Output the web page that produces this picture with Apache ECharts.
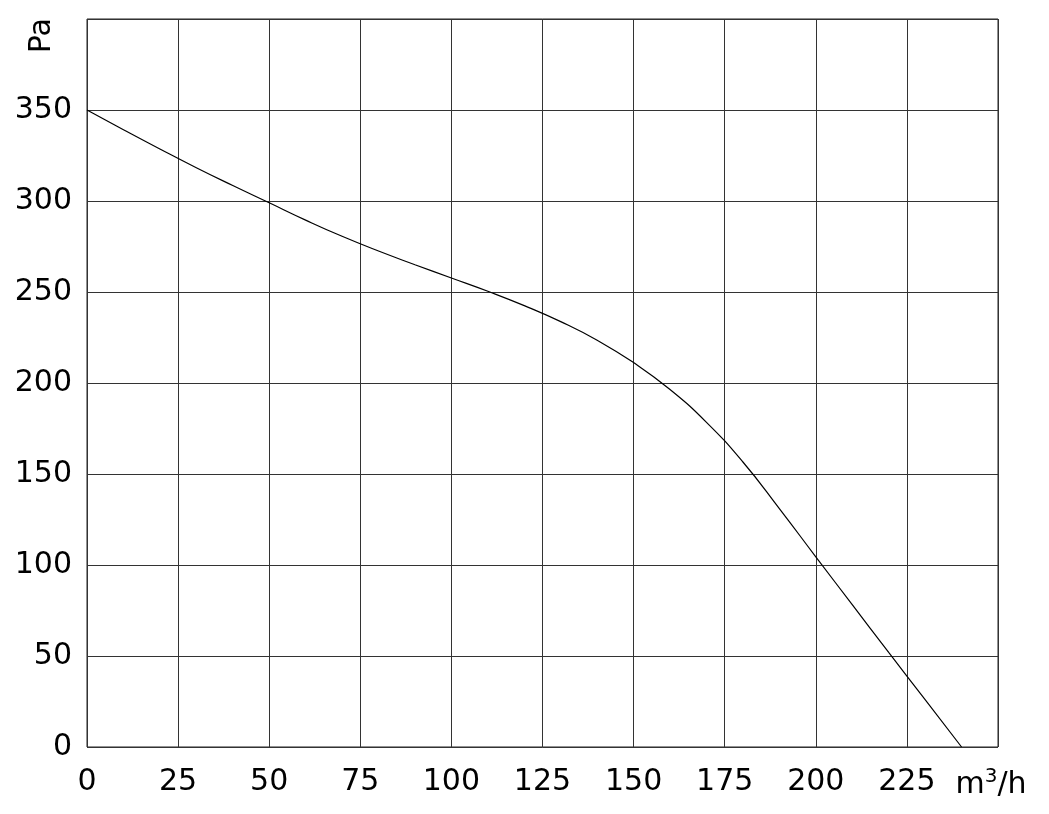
<!DOCTYPE html>
<html>
<head>
<meta charset="utf-8">
<script src="https://cdn.jsdelivr.net/npm/echarts@6/dist/echarts.min.js"></script>
<style>
html,body{margin:0;padding:0;background:#fff;}
#c{width:1049px;height:814px;}
</style>
</head>
<body>
<div id="c"></div>
<script>
var flow = [0, 10, 20, 30, 40, 50, 60, 70, 80, 90, 100, 110, 120, 130, 140, 150, 160, 170, 180, 190, 200, 210, 220, 230, 240];
var pressure = [350, 339.2, 328.6, 318.3, 308.5, 299, 289.5, 280.6, 272.5, 265, 257.7, 250.4, 242.5, 233.7, 223.5, 211.2, 196.4, 178.4, 156.6, 131, 104.5, 78.2, 52, 26, 0];
var xTicks = [0, 25, 50, 75, 100, 125, 150, 175, 200, 225];
var yTicks = [0, 50, 100, 150, 200, 250, 300, 350];

var FONT = 'DejaVu Sans';
var chart = echarts.init(document.getElementById('c'), null, {renderer: 'canvas'});
chart.setOption({
  animation: false,
  backgroundColor: '#fff',
  grid: {left: 87, top: 19, right: 51, bottom: 67, show: true, borderColor: '#222', borderWidth: 1},
  xAxis: {
    type: 'value', min: 0, max: 250, interval: 25,
    axisLine: {show: false}, axisTick: {show: false},
    splitLine: {show: true, lineStyle: {color: '#333', width: 1}},
    axisLabel: {
      margin: 20, color: '#000', fontFamily: FONT, fontSize: 30,
      showMaxLabel: true,
      formatter: function (v) {
        if (v === 250) return '{m|m}{sup|3}{h|/h}';
        return xTicks.indexOf(v) >= 0 ? String(v) : '';
      },
      rich: {
        m: {fontSize: 30, fontFamily: FONT, color: '#000'},
        h: {fontSize: 30, fontFamily: FONT, color: '#000', padding: [0, 14, 0, 0]},
        sup: {fontSize: 20, fontFamily: FONT, color: '#000', verticalAlign: 'top', padding: [0, 0, 16, 0]}
      }
    }
  },
  yAxis: {
    type: 'value', min: 0, max: 400, interval: 50,
    axisLine: {show: false}, axisTick: {show: false},
    splitLine: {show: true, lineStyle: {color: '#333', width: 1}},
    axisLabel: {
      margin: 15, color: '#000', fontFamily: FONT, fontSize: 30,
      formatter: function (v) { return yTicks.indexOf(v) >= 0 ? String(v) : ''; }
    }
  },
  graphic: [{
    type: 'text', left: 27, top: 18, rotation: Math.PI / 2,
    style: {text: 'Pa', fontFamily: FONT, fontSize: 30, fill: '#000'}
  }],
  series: [{
    type: 'line', smooth: 0.5, symbol: 'none',
    lineStyle: {color: '#000', width: 1.2},
    data: flow.map(function (f, i) { return [f, pressure[i]]; })
  }]
});
</script>
</body>
</html>
